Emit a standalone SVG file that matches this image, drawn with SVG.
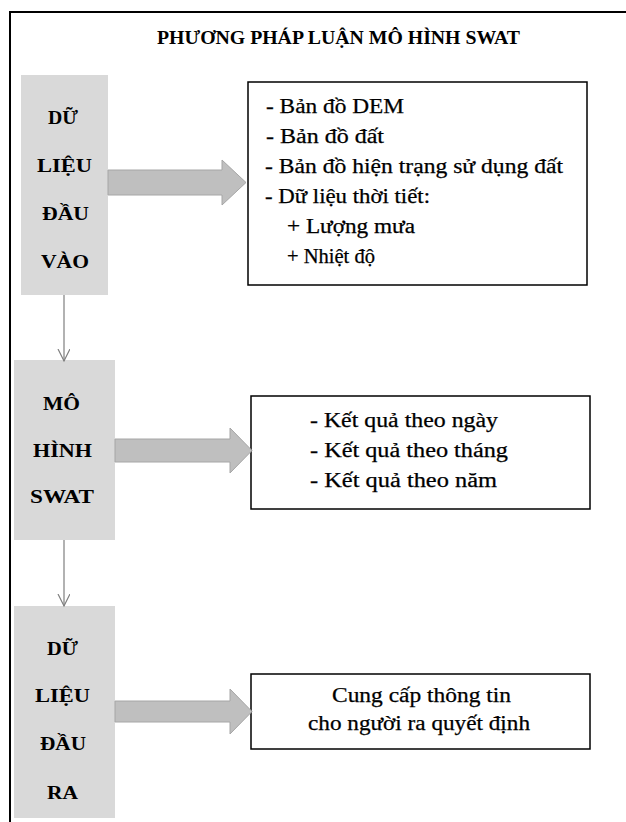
<svg xmlns="http://www.w3.org/2000/svg" width="626" height="822" viewBox="0 0 626 822">
<defs>
<style>
text{font-family:"Liberation Serif","Times New Roman",serif;fill:#000}
.frame{fill:none;stroke:#000;stroke-width:2}
.gbox{fill:#d9d9d9;stroke:none}
.wbox{fill:#fff;stroke:#000;stroke-width:1.5}
.lbl{font-weight:bold;font-size:19px}
.txt{font-size:20px;stroke:#000;stroke-width:0.25}
.title{font-weight:bold;font-size:18px}
.big{fill:#bfbfbf;stroke:#a6a6a6;stroke-width:1}
.vline{stroke:#7f7f7f;stroke-width:1.2;fill:none}
</style>
<marker id="chev" markerWidth="14" markerHeight="14" refX="12" refY="6" orient="auto" markerUnits="userSpaceOnUse">
<path d="M0,0 L12,6 L0,12" fill="none" stroke="#7f7f7f" stroke-width="1.2"/>
</marker>
</defs>
<rect width="626" height="822" fill="#fff"/>
<path class="frame" d="M10,822 V12 H626"/>
<text class="title" x="157" y="44" textLength="363" lengthAdjust="spacingAndGlyphs">PHƯƠNG PHÁP LUẬN MÔ HÌNH SWAT</text>

<g id="input-data">
<rect class="gbox" x="21" y="75" width="87" height="220"/>
<text class="lbl" x="48" y="124" textLength="30" lengthAdjust="spacingAndGlyphs">DỮ</text>
<text class="lbl" x="37" y="172" textLength="55" lengthAdjust="spacingAndGlyphs">LIỆU</text>
<text class="lbl" x="42" y="220" textLength="47" lengthAdjust="spacingAndGlyphs">ĐẦU</text>
<text class="lbl" x="41" y="268" textLength="48" lengthAdjust="spacingAndGlyphs">VÀO</text>
</g>

<g id="input-list">
<rect class="wbox" x="248" y="82" width="339" height="203"/>
<text class="txt" x="266" y="113" textLength="138" lengthAdjust="spacingAndGlyphs">- Bản đồ DEM</text>
<text class="txt" x="266" y="143" textLength="118" lengthAdjust="spacingAndGlyphs">- Bản đồ đất</text>
<text class="txt" x="265" y="173" textLength="298" lengthAdjust="spacingAndGlyphs">- Bản đồ hiện trạng sử dụng đất</text>
<text class="txt" x="265" y="203" textLength="165" lengthAdjust="spacingAndGlyphs">- Dữ liệu thời tiết:</text>
<text class="txt" x="287" y="233" textLength="128" lengthAdjust="spacingAndGlyphs">+ Lượng mưa</text>
<text class="txt" x="287" y="263" textLength="88" lengthAdjust="spacingAndGlyphs">+ Nhiệt độ</text>
</g>

<g id="swat-model">
<rect class="gbox" x="14" y="360" width="101" height="180"/>
<text class="lbl" x="43" y="410" textLength="37" lengthAdjust="spacingAndGlyphs">MÔ</text>
<text class="lbl" x="33" y="457" textLength="59" lengthAdjust="spacingAndGlyphs">HÌNH</text>
<text class="lbl" x="30" y="503" textLength="64" lengthAdjust="spacingAndGlyphs">SWAT</text>
</g>

<g id="results-list">
<rect class="wbox" x="251" y="396" width="339" height="113"/>
<text class="txt" x="310" y="427" textLength="188" lengthAdjust="spacingAndGlyphs">- Kết quả theo ngày</text>
<text class="txt" x="310" y="457" textLength="198" lengthAdjust="spacingAndGlyphs">- Kết quả theo tháng</text>
<text class="txt" x="310" y="487" textLength="187" lengthAdjust="spacingAndGlyphs">- Kết quả theo năm</text>
</g>

<g id="output-data">
<rect class="gbox" x="14" y="606" width="101" height="212"/>
<text class="lbl" x="47" y="655" textLength="31" lengthAdjust="spacingAndGlyphs">DỮ</text>
<text class="lbl" x="35" y="702" textLength="55" lengthAdjust="spacingAndGlyphs">LIỆU</text>
<text class="lbl" x="40" y="750" textLength="46" lengthAdjust="spacingAndGlyphs">ĐẦU</text>
<text class="lbl" x="47" y="799" textLength="31" lengthAdjust="spacingAndGlyphs">RA</text>
</g>

<g id="decision-info">
<rect class="wbox" x="251" y="674" width="339" height="75"/>
<text class="txt" x="332" y="702" textLength="179" lengthAdjust="spacingAndGlyphs">Cung cấp thông tin</text>
<text class="txt" x="308" y="730" textLength="222" lengthAdjust="spacingAndGlyphs">cho người ra quyết định</text>
</g>

<g id="connectors">
<path class="big" d="M108,170 H222 V160 L246,182.5 L222,205 V195 H108 Z"/>
<path class="big" d="M115,439 H230 V428 L252,450.5 L230,473 V462 H115 Z"/>
<path class="big" d="M115,701 H230 V689 L252,711.5 L230,734 V722 H115 Z"/>
<line class="vline" x1="64" y1="295" x2="64" y2="361" marker-end="url(#chev)"/>
<line class="vline" x1="64" y1="540" x2="64" y2="606" marker-end="url(#chev)"/>
</g>
</svg>
